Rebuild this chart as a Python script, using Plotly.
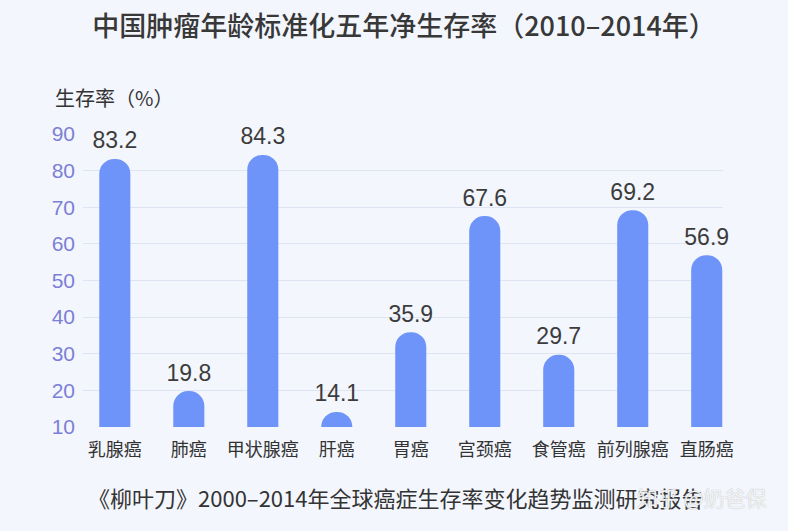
import plotly.graph_objects as go

categories = ["乳腺癌", "肺癌", "甲状腺癌", "肝癌", "胃癌", "宫颈癌", "食管癌", "前列腺癌", "直肠癌"]
values = [83.2, 19.8, 84.3, 14.1, 35.9, 67.6, 29.7, 69.2, 56.9]
y_ticks = [10, 20, 30, 40, 50, 60, 70, 80, 90]

title_text = "中国肿瘤年龄标准化五年净生存率（2010–2014年）"
y_title = "生存率（%）"
footer = "《柳叶刀》2000–2014年全球癌症生存率变化趋势监测研究报告"
watermark = "知乎 @奶爸保"

FONT = "Noto Sans CJK SC"
NUMFONT = "Liberation Sans"
BG = "#f3f6fd"

PL, PT, PR, PB = 83, 134, 723, 427  # plot area in screen pixels
PW, PH = PR - PL, PB - PT

fig = go.Figure()
fig.add_trace(go.Bar(
    x=categories,
    y=values,
    width=0.42,
    marker=dict(color="#6f94f9", line=dict(width=0), cornerradius=16),
    hoverinfo="skip",
))
fig.add_trace(go.Scatter(
    x=categories,
    y=values,
    mode="markers+text",
    marker=dict(size=6, color="rgba(0,0,0,0)"),
    text=[f"{v:.1f}" for v in values],
    textposition="top center",
    textfont=dict(family=NUMFONT, size=23, color="#3c3c3c"),
    cliponaxis=False,
    hoverinfo="skip",
))

fig.update_layout(
    width=788, height=531,
    margin=dict(l=PL, r=788 - PR, t=PT, b=531 - PB),
    paper_bgcolor=BG, plot_bgcolor=BG,
    showlegend=False,
    title=dict(text=title_text, x=404 / 788, xanchor="center",
               y=1 - 27 / 531, yanchor="middle",
               font=dict(family=FONT, size=27, color="#383838", weight=500)),
    xaxis=dict(range=[-0.43, 8.22], showgrid=False, zeroline=False, showline=False,
               tickfont=dict(family=FONT, size=18, color="#333333"), ticks="", ticklabelstandoff=10),
    yaxis=dict(range=[10, 90], tickvals=y_ticks, showgrid=True, gridcolor="#dfe4f3", gridwidth=1,
               zeroline=False, showline=False, ticks="",
               tickfont=dict(family=NUMFONT, size=21, color="#7b80d6"), ticklabelstandoff=7),
    annotations=[
        dict(text=y_title, xref="paper", yref="paper", x=(53 - PL) / PW, y=(PB - 98) / PH,
             xanchor="left", yanchor="middle", showarrow=False,
             font=dict(family=FONT, size=20, color="#333333")),
        dict(text=footer, xref="paper", yref="paper", x=(395 - PL) / PW, y=(PB - 497) / PH,
             xanchor="center", yanchor="middle", showarrow=False,
             font=dict(family=FONT, size=22, color="#333333")),
        dict(text=watermark, xref="paper", yref="paper", x=(702 - PL) / PW, y=(PB - 497) / PH,
             xanchor="center", yanchor="middle", showarrow=False,
             font=dict(family=FONT, size=21, color="rgba(255,255,255,0.85)",
                       shadow="0px 0px 1px #9a9a9a")),
    ],
)

fig.write_html(
    "out.html",
    config={"displayModeBar": False},
    post_script="document.body.style.margin='0';document.body.style.background='%s';" % BG,
)
